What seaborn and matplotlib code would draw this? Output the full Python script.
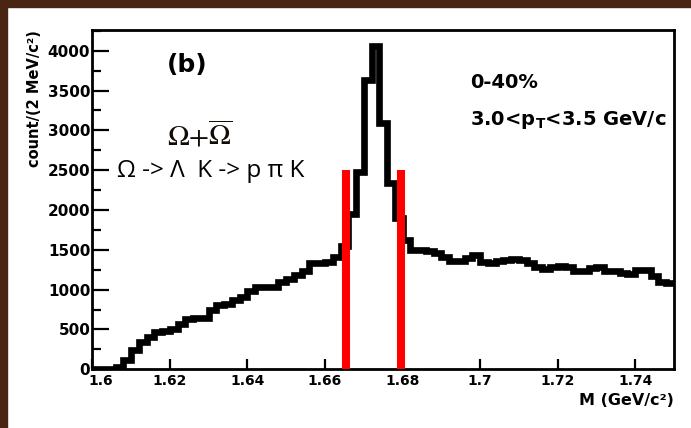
import numpy as np
import pandas as pd
import matplotlib
matplotlib.use("Agg")
import matplotlib.pyplot as plt
import matplotlib.transforms as mtransforms
import seaborn as sns
from matplotlib.patches import Rectangle
from matplotlib.ticker import MultipleLocator, FixedLocator

# ---------------- data ----------------
mass_edges = np.linspace(1.600, 1.750, 76)          # 2 MeV bins
counts = [0, 0, 0, 30, 120, 240, 345, 410, 470, 480,
          510, 565, 630, 650, 650, 740, 805, 825, 870, 910,
          985, 1030, 1030, 1035, 1100, 1140, 1185, 1240, 1330, 1330,
          1350, 1410, 1550, 1950, 2480, 3630, 4060, 3090, 2340, 1900,
          1620, 1500, 1500, 1490, 1460, 1410, 1365, 1365, 1400, 1440,
          1345, 1340, 1360, 1375, 1380, 1370, 1330, 1290, 1265, 1290,
          1295, 1290, 1240, 1235, 1275, 1280, 1240, 1235, 1205, 1200,
          1245, 1245, 1170, 1100, 1090]
cut_positions = [1.6655, 1.6795]
cut_height = 2500

x_ticks = [1.60, 1.62, 1.64, 1.66, 1.68, 1.70, 1.72, 1.74]
x_tick_labels = ["1.6", "1.62", "1.64", "1.66", "1.68", "1.7", "1.72", "1.74"]
y_ticks = [0, 500, 1000, 1500, 2000, 2500, 3000, 3500, 4000]
y_tick_labels = ["0", "500", "1000", "1500", "2000", "2500", "3000", "3500", "4000"]

# ---------------- style ----------------
sns.set_style("ticks")
plt.rcParams['font.family'] = ['DejaVu Sans']
plt.rcParams['mathtext.fontset'] = 'dejavusans'
plt.rcParams['text.color'] = 'black'
plt.rcParams['axes.labelcolor'] = 'black'
plt.rcParams['xtick.color'] = 'black'
plt.rcParams['ytick.color'] = 'black'

fig = plt.figure(figsize=(6.91, 4.28), dpi=100)
fig.patch.set_facecolor('white')
brown = '#4A2511'
fig.add_artist(Rectangle((0, 1 - 7 / 428), 1, 7 / 428, transform=fig.transFigure,
                         color=brown, zorder=0))
fig.add_artist(Rectangle((0, 0), 7 / 691, 1, transform=fig.transFigure,
                         color=brown, zorder=0))

ax = fig.add_axes([0.1336, 0.1371, 0.8418, 0.7928])
ax.set_facecolor('white')

centers = (mass_edges[:-1] + mass_edges[1:]) / 2
df = pd.DataFrame({"mass": centers, "count": counts})
sns.histplot(data=df, x="mass", weights="count", bins=mass_edges.tolist(), element="step",
             fill=False, color="black", linewidth=4.8, ax=ax)
for ln in ax.lines:
    ln.set_solid_joinstyle('miter')
    ln.set_solid_capstyle('butt')

ax.vlines(cut_positions, 0, cut_height, colors='#FF0000', linewidth=5.8, zorder=5,
          capstyle='butt')

ax.set_xlim(1.6, 1.75)
ax.set_ylim(0, 4260)

for s in ax.spines.values():
    s.set_visible(True)
    s.set_linewidth(2)
    s.set_color('black')

ax.xaxis.set_major_locator(FixedLocator(x_ticks))
ax.set_xticklabels(x_tick_labels, fontsize=10, fontweight='bold', color='black')
ax.yaxis.set_major_locator(FixedLocator(y_ticks))
ax.set_yticklabels(y_tick_labels, fontsize=11, fontweight='bold', color='black')
ax.yaxis.set_minor_locator(MultipleLocator(250))

ax.tick_params(axis='both', which='both', direction='in', top=False, right=False,
               colors='black', width=1.6)
ax.tick_params(axis='y', which='major', length=12, pad=1.5)
ax.tick_params(axis='y', which='minor', length=6.5)
ax.tick_params(axis='x', which='major', length=7, pad=3.5)

# shift the first x label a little to the right (as in the ROOT original)
first_lab = ax.get_xticklabels()[0]
first_lab.set_transform(first_lab.get_transform() +
                        mtransforms.ScaledTranslation(8 / 100, 0, fig.dpi_scale_trans))

ax.set_ylabel("count/(2 MeV/c²)", fontsize=10.5, fontweight='bold', loc='top', color='black')
ax.yaxis.set_label_coords(-0.086, 1.0)
ax.set_xlabel("M (GeV/c²)", fontsize=11.5, fontweight='bold', loc='right', color='black')
ax.xaxis.set_label_coords(1.0, -0.07)

# annotations
ax.text(0.128, 0.897, "(b)", transform=ax.transAxes, fontsize=18, fontweight='bold',
        va='center', ha='left', color='black')
ax.text(0.649, 0.845, "0-40%", transform=ax.transAxes, fontsize=14, fontweight='bold',
        va='center', ha='left', color='black')
ax.text(0.649, 0.72, r"3.0<p$_{\mathbf{T}}$<3.5 GeV/c", transform=ax.transAxes,
        fontsize=14, fontweight='bold', va='baseline', ha='left', color='black')
ax.text(0.128, 0.661, r"$\Omega{+}\overline{\Omega}$", transform=ax.transAxes,
        fontsize=21, va='baseline', ha='left', math_fontfamily='stix', color='#120c05')
ax.text(0.0425, 0.5676, "Ω -> Λ  K -> p π K", transform=ax.transAxes,
        fontsize=17.5, va='baseline', ha='left', family=['Open Sans', 'DejaVu Sans'],
        color='black')

fig.savefig("out.png", dpi=100)
